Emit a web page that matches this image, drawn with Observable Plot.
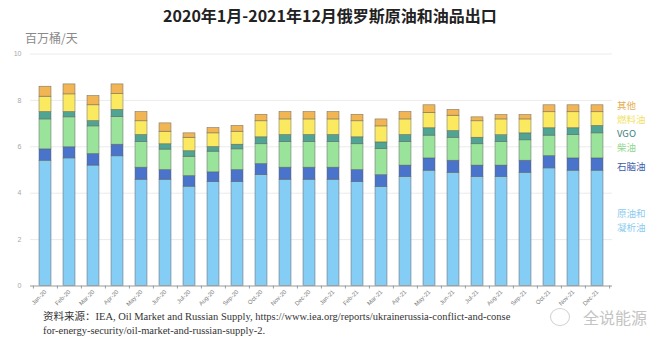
<!DOCTYPE html>
<html>
<head>
<meta charset="utf-8">
<script src="https://cdn.jsdelivr.net/npm/d3@7"></script>
<script src="https://cdn.jsdelivr.net/npm/@observablehq/plot@0.6"></script>
<style>
  html, body { margin: 0; padding: 0; background: #fff; }
  #wrap { position: relative; width: 660px; height: 349px; overflow: hidden; background: #fff; }
  #chart { position: absolute; left: 0; top: 0; }
  .abs { position: absolute; white-space: nowrap; }
  #title { left: 0; top: 5px; width: 660px; text-align: center; font: bold 16px/20px "Noto Sans CJK SC", sans-serif; color: #222; }
  #unit { left: 25px; top: 31px; font: 12px/14px "Noto Sans CJK SC", sans-serif; color: #8a8a8a; }
  .leg { left: 617px; font: 9.5px/14px "Noto Sans CJK SC", sans-serif; }
  .src { left: 43px; font: 10.5px/14px "Liberation Serif", "Noto Sans CJK SC", serif; color: #333; }
  #wm { left: 583px; top: 307px; font: 16px/20px "Noto Sans CJK SC", sans-serif; color: #c4c4c4; }
  #wmi { left: 550px; top: 308px; width: 18px; height: 16px; border: 1.5px solid #cfcfcf; border-radius: 50%; }
</style>
</head>
<body>
<div id="wrap">
  <div id="chart"></div>
  <div id="title" class="abs"></div>
  <div id="unit" class="abs"></div>
  <div id="legend"></div>
  <div id="source"></div>
</div>
<script>
const titleText = "2020年1月-2021年12月俄罗斯原油和油品出口";
const unitText = "百万桶/天";
const months = ["Jan-20","Feb-20","Mar-20","Apr-20","May-20","Jun-20","Jul-20","Aug-20","Sep-20","Oct-20","Nov-20","Dec-20",
                "Jan-21","Feb-21","Mar-21","Apr-21","May-21","Jun-21","Jul-21","Aug-21","Sep-21","Oct-21","Nov-21","Dec-21"];
const products = ["原油和凝析油","石脑油","柴油","VGO","燃料油","其他"];
const colors = ["#84cdf5","#4a74cc","#99e39b","#4fa493","#fbe95f","#f1b554"];
const legendColors = ["#8ccbee","#3b5ba8","#8fd68c","#3d7f80","#f2df66","#e6ae52"];
const crude   = [5.40,5.50,5.19,5.59,4.58,4.58,4.28,4.48,4.48,4.78,4.58,4.58,4.58,4.48,4.27,4.70,4.97,4.88,4.70,4.70,4.88,5.07,4.97,4.97];
const naphtha = [0.49,0.48,0.50,0.50,0.52,0.42,0.46,0.42,0.52,0.48,0.52,0.52,0.52,0.52,0.51,0.49,0.53,0.52,0.49,0.49,0.52,0.53,0.53,0.53];
const diesel  = [1.29,1.29,1.19,1.19,1.11,0.88,0.83,0.89,0.89,0.85,1.11,1.11,1.11,1.11,1.12,1.02,0.98,0.99,0.92,1.02,0.88,0.88,1.00,1.08];
const vgo     = [0.32,0.23,0.23,0.31,0.30,0.23,0.24,0.20,0.20,0.30,0.30,0.30,0.30,0.30,0.29,0.30,0.32,0.29,0.28,0.29,0.30,0.32,0.30,0.32];
const fuel    = [0.66,0.76,0.68,0.68,0.59,0.54,0.58,0.59,0.56,0.69,0.67,0.67,0.67,0.69,0.69,0.67,0.66,0.66,0.71,0.68,0.60,0.69,0.69,0.59];
const other   = [0.43,0.43,0.40,0.42,0.40,0.36,0.19,0.23,0.25,0.28,0.32,0.32,0.32,0.28,0.30,0.32,0.33,0.25,0.17,0.19,0.19,0.30,0.30,0.30];
const yTicks = [0,2,4,6,8,10];
const sourceLines = [
  "资料来源：IEA, Oil Market and Russian Supply, https://www.iea.org/reports/ukrainerussia-conflict-and-conse",
  "for-energy-security/oil-market-and-russian-supply-2."
];
const watermark = "全说能源";

const series = [crude, naphtha, diesel, vgo, fuel, other];
const rows = [];
months.forEach((m, i) => products.forEach((p, k) => rows.push({month: m, product: p, value: series[k][i]})));

const W = 660, H = 349, mL = 30, mR = 48, mT = 53.5, mB = 63.5;
const step = (W - mL - mR) / months.length;

const chart = Plot.plot({
  width: W, height: H,
  marginTop: mT, marginBottom: mB, marginLeft: mL, marginRight: mR,
  style: {fontFamily: "'Liberation Sans', Arial, sans-serif", background: "transparent", overflow: "visible"},
  x: {type: "band", domain: months, paddingInner: 0.5, paddingOuter: 0.25, label: null},
  y: {domain: [0, 10], label: null},
  color: {domain: products, range: colors},
  marks: [
    Plot.gridY(yTicks.filter(t => t > 0), {stroke: "#ebebeb", strokeOpacity: 1}),
    Plot.barY(rows, {x: "month", y: "value", fill: "product", stroke: "#5a5a5a", strokeWidth: 0.6, strokeOpacity: 0.75}),
    Plot.ruleY([0], {stroke: "#9a9a9a"}),
    Plot.axisY(yTicks, {tickSize: 0, tickPadding: 9, fontSize: 7, fill: "#a8a8a8", label: null}),
    Plot.axisX({tickSize: 0, tickPadding: 5, tickRotate: -45, fontSize: 6, fill: "#7a7a7a", label: null}),
    Plot.axisX({tickSize: 3, text: null, dx: -step / 2, stroke: "#9a9a9a", label: null}),
    Plot.axisX([months[months.length - 1]], {tickSize: 3, text: null, dx: step / 2, stroke: "#9a9a9a", label: null})
  ]
});
document.getElementById("chart").appendChild(chart);

document.getElementById("title").textContent = titleText;
document.getElementById("unit").textContent = unitText;

// legend (HTML, to the right of the last bar); vertical centres in px
const legendCentres = {"其他": 105, "燃料油": 119, "VGO": 133, "柴油": 147, "石脑油": 166, "原油和凝析油": 220};
const legend = document.getElementById("legend");
products.slice().reverse().forEach(p => {
  const k = products.indexOf(p);
  const d = document.createElement("div");
  d.className = "abs leg";
  d.style.color = legendColors[k];
  if (p === "原油和凝析油") {
    d.innerHTML = "原油和<br>凝析油";
    d.style.top = (legendCentres[p] - 14) + "px";
  } else {
    d.textContent = p;
    d.style.top = (legendCentres[p] - 7) + "px";
  }
  legend.appendChild(d);
});

const src = document.getElementById("source");
sourceLines.forEach((t, i) => {
  const d = document.createElement("div");
  d.className = "abs src";
  d.style.top = (310 + i * 14) + "px";
  d.textContent = t;
  src.appendChild(d);
});
const wmi = document.createElement("div"); wmi.id = "wmi"; wmi.className = "abs"; src.appendChild(wmi);
const wm = document.createElement("div"); wm.id = "wm"; wm.className = "abs"; wm.textContent = watermark; src.appendChild(wm);
</script>
</body>
</html>
